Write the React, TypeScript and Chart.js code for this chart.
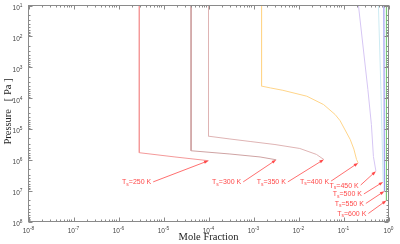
import React, { useEffect, useRef } from "react";
import { Chart, registerables } from "chart.js";

Chart.register(...registerables);

// Surface temperatures of each profile
const temperatures = [250, 300, 350, 400, 450, 500, 550, 600];

// Mole fraction (x) and pressure in Pa (y) of each profile, top of atmosphere to surface
const frac250 = [2.9e-6, 2.9e-6, 1.8e-5, 1.0e-4];
const pres250 = [10, 5.9e5, 8.1e5, 1.07e6];

const frac300 = [4.1e-5, 4.1e-5, 3.0e-4, 1.4e-3, 3.2e-3];
const pres300 = [10, 5.1e5, 6.5e5, 8.1e5, 1.0e6];

const frac350 = [1.0e-4, 1.0e-4, 3.0e-4, 8.4e-4, 3.0e-3, 1.07e-2, 2.5e-2, 3.66e-2];
const pres350 = [10, 1.72e5, 2.12e5, 2.55e5, 3.2e5, 4.3e5, 6.7e5, 9.8e5];

const frac400 = [1.51e-3, 1.51e-3, 2.4e-3, 4.5e-3, 1.53e-2, 3.6e-2, 6.5e-2, 8.4e-2, 0.141, 0.17, 0.195, 0.212];
const pres400 = [10, 4.1e3, 4.7e3, 5.6e3, 8.7e3, 1.62e4, 3.4e4, 5.4e4, 2.2e5, 4.5e5, 9.8e5, 1.26e6];

const frac450 = [0.215, 0.348, 0.417, 0.462, 0.525];
const pres450 = [10, 5.25e3, 7.2e4, 7.8e5, 2.34e6];

const frac500 = [0.597, 0.678, 0.762];
const pres500 = [10, 5.25e3, 5.2e6];

const frac550 = [0.79, 0.81];
const pres550 = [10, 1.04e7];

const frac600 = [0.908, 0.9];
const pres600 = [10, 2.08e7];

const profileFracs = [frac250, frac300, frac350, frac400, frac450, frac500, frac550, frac600];
const profilePres = [pres250, pres300, pres350, pres400, pres450, pres500, pres550, pres600];

// Annotation label anchors (arrow tails), in data coordinates
const labelFrac = [5.9e-6, 5.9e-4, 5.8e-3, 5.3e-2, 0.241, 0.284, 0.314, 0.357];
const labelPres = [5.2e6, 5.2e6, 5.2e6, 4.9e6, 6.6e6, 1.28e7, 2.6e7, 5.5e7];

// Axis decades (exponents)
const xExponents = [-8, -7, -6, -5, -4, -3, -2, -1, 0];
const yExponents = [1, 2, 3, 4, 5, 6, 7, 8];

const lineColors = ["#f49a9a", "#cfa3a3", "#dfb4b4", "#ffd58a", "#d6c6f4", "#cdebf3", "#8c8cf0", "#7acb7a"];

const overlay = {
  id: "overlay",
  afterDraw(chart: any) {
    const ctx = chart.ctx as CanvasRenderingContext2D;
    const xs = chart.scales.x;
    const ys = chart.scales.y;
    const a = chart.chartArea;
    ctx.save();

    // frame
    ctx.strokeStyle = "#8a8a8a";
    ctx.lineWidth = 1;
    ctx.strokeRect(a.left, a.top, a.right - a.left, a.bottom - a.top);

    // ticks
    ctx.strokeStyle = "#8a8a8a";
    ctx.beginPath();
    const xmin = xExponents[0], xmax = xExponents[xExponents.length - 1];
    for (let d = xmin; d <= xmax; d++) {
      for (let k = 1; k <= 9; k++) {
        const v = k * Math.pow(10, d);
        if (v > Math.pow(10, xmax) * 1.0001) continue;
        const px = Math.round(xs.getPixelForValue(v)) + 0.5;
        const len = k === 1 ? 4 : 2;
        ctx.moveTo(px, a.bottom);
        ctx.lineTo(px, a.bottom - len);
        ctx.moveTo(px, a.top);
        ctx.lineTo(px, a.top + len);
      }
    }
    const ymin = yExponents[0], ymax = yExponents[yExponents.length - 1];
    for (let d = ymin; d <= ymax; d++) {
      for (let k = 1; k <= 9; k++) {
        const v = k * Math.pow(10, d);
        if (v > Math.pow(10, ymax) * 1.0001) continue;
        const py = Math.round(ys.getPixelForValue(v)) + 0.5;
        const len = k === 1 ? 4 : 2;
        ctx.moveTo(a.left, py);
        ctx.lineTo(a.left + len, py);
        ctx.moveTo(a.right, py);
        ctx.lineTo(a.right - len, py);
      }
    }
    ctx.stroke();

    // tick labels
    ctx.fillStyle = "#444";
    const baseFont = "6.5px 'Liberation Sans', sans-serif";
    const supFont = "4.8px 'Liberation Sans', sans-serif";
    ctx.textBaseline = "alphabetic";
    xExponents.forEach((e) => {
      const px = xs.getPixelForValue(Math.pow(10, e));
      ctx.font = baseFont;
      const w1 = ctx.measureText("10").width;
      ctx.font = supFont;
      const w2 = ctx.measureText(String(e)).width;
      const start = px - (w1 + w2) / 2;
      ctx.font = baseFont;
      ctx.textAlign = "left";
      ctx.fillText("10", start, a.bottom + 11);
      ctx.font = supFont;
      ctx.fillText(String(e), start + w1, a.bottom + 8);
    });
    yExponents.forEach((e) => {
      const py = ys.getPixelForValue(Math.pow(10, e));
      ctx.font = supFont;
      const w2 = ctx.measureText(String(e)).width;
      ctx.font = baseFont;
      const w1 = ctx.measureText("10").width;
      const end = a.left - 6;
      ctx.textAlign = "left";
      ctx.fillText("10", end - w2 - w1, py + 4.5);
      ctx.font = supFont;
      ctx.fillText(String(e), end - w2, py + 1.5);
    });

    // axis titles
    ctx.fillStyle = "#222";
    ctx.font = "10.5px 'Liberation Serif', serif";
    ctx.textAlign = "center";
    ctx.textBaseline = "middle";
    ctx.fillText("Mole Fraction", (a.left + a.right) / 2, 237.5);
    ctx.save();
    ctx.translate(8.5, (a.top + a.bottom) / 2 - 2);
    ctx.rotate(-Math.PI / 2);
    ctx.fillText("Pressure   [ Pa ]", 0, 0);
    ctx.restore();

    // annotations: arrows from label to profile surface
    ctx.strokeStyle = "#ff4a4a";
    ctx.fillStyle = "#ff4a4a";
    ctx.lineWidth = 0.8;
    temperatures.forEach((t, i) => {
      const fr = profileFracs[i];
      const pr = profilePres[i];
      const tx = xs.getPixelForValue(fr[fr.length - 1]);
      const ty = ys.getPixelForValue(pr[pr.length - 1]);
      const sx = xs.getPixelForValue(labelFrac[i]);
      const sy = ys.getPixelForValue(labelPres[i]);
      const ang = Math.atan2(ty - sy, tx - sx);
      const hl = 4.5, hw = 1.6;
      const c = Math.cos(ang), s = Math.sin(ang);
      ctx.beginPath();
      ctx.moveTo(sx, sy);
      ctx.lineTo(tx - hl * 0.6 * c, ty - hl * 0.6 * s);
      ctx.stroke();
      ctx.beginPath();
      ctx.moveTo(tx, ty);
      ctx.lineTo(tx - hl * c + hw * s, ty - hl * s - hw * c);
      ctx.lineTo(tx - hl * c - hw * s, ty - hl * s + hw * c);
      ctx.closePath();
      ctx.fill();

      // label "T_s=xxx K"
      const mainFont = "7px 'Liberation Sans', sans-serif";
      const subFont = "5px 'Liberation Sans', sans-serif";
      ctx.font = mainFont;
      const wT = ctx.measureText("T").width;
      const rest = "=" + t + " K";
      const wR = ctx.measureText(rest).width;
      ctx.font = subFont;
      const wS = ctx.measureText("s").width;
      const total = wT + wS + wR;
      const x0 = sx - 2 - total;
      const base = sy + 2.5;
      ctx.textAlign = "left";
      ctx.textBaseline = "alphabetic";
      ctx.font = mainFont;
      ctx.fillText("T", x0, base);
      ctx.font = subFont;
      ctx.fillText("s", x0 + wT, base + 1.5);
      ctx.font = mainFont;
      ctx.fillText(rest, x0 + wT + wS, base);
    });

    ctx.restore();
  },
};

export default function App() {
  const ref = useRef<HTMLCanvasElement>(null);
  useEffect(() => {
    document.body.style.margin = "0";
    const datasets = temperatures.map((t, i) => ({
      label: "Ts=" + t + " K",
      data: profileFracs[i].map((f, j) => ({ x: f, y: profilePres[i][j] })),
      showLine: true,
      borderColor: lineColors[i],
      backgroundColor: lineColors[i],
      borderWidth: 1,
      pointRadius: 0,
      tension: 0,
      fill: false,
    }));
    const chart = new Chart(ref.current as HTMLCanvasElement, {
      type: "scatter",
      data: { datasets },
      options: {
        animation: false,
        responsive: false,
        devicePixelRatio: 1,
        layout: { padding: { left: 28.5, right: 11.5, top: 5.5, bottom: 22.5 } },
        plugins: { legend: { display: false }, tooltip: { enabled: false } },
        scales: {
          x: { type: "logarithmic", min: 1e-8, max: 1, display: false },
          y: { type: "logarithmic", min: 10, max: 1e8, reverse: true, display: false },
        },
      },
      plugins: [overlay],
    } as any);
    return () => chart.destroy();
  }, []);
  return (
    <div style={{ width: 400, height: 244, background: "#fff" }}>
      <canvas ref={ref} width={400} height={244} style={{ display: "block" }} />
    </div>
  );
}
